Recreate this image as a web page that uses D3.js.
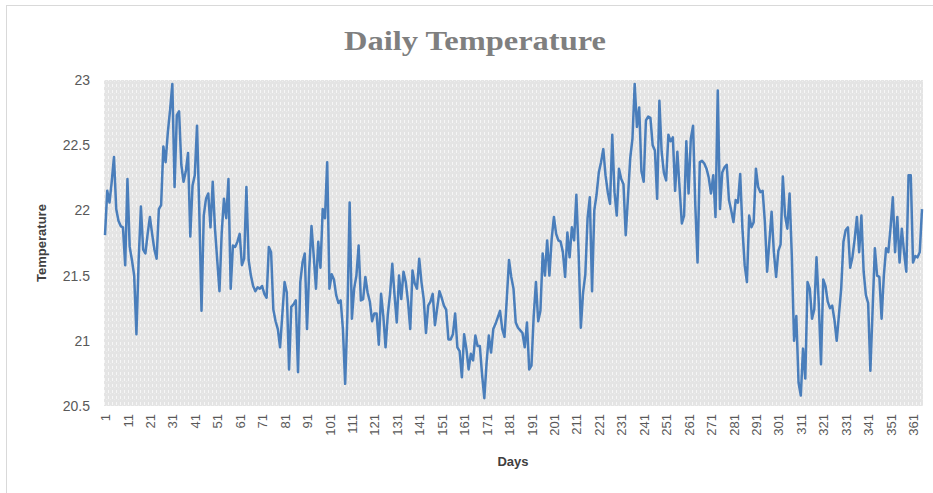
<!DOCTYPE html>
<html><head><meta charset="utf-8">
<script src="https://cdn.jsdelivr.net/npm/d3@7"></script>
<style>body{margin:0;background:#fff;} svg{display:block}</style>
</head><body>
<svg id="c" width="933" height="493"></svg>
<script>
const days = d3.range(1, 366);
const temperature = [
21.81,22.15,22.06,22.22,22.41,22.01,21.92,21.88,21.87,21.58,
22.24,21.72,21.62,21.5,21.05,21.62,22.03,21.7,21.67,21.82,
21.95,21.82,21.7,21.63,22.01,22.04,22.49,22.37,22.6,22.77,
22.97,22.18,22.73,22.76,22.35,22.22,22.3,22.44,21.8,22.19,
22.27,22.65,22.01,21.23,21.96,22.09,22.13,21.87,22.22,21.86,
21.62,21.38,21.83,22.09,21.94,22.24,21.4,21.73,21.72,21.76,
21.82,21.58,21.63,22.18,21.62,21.5,21.42,21.38,21.41,21.4,
21.42,21.36,21.33,21.72,21.68,21.24,21.15,21.09,20.95,21.2,
21.45,21.37,20.78,21.26,21.28,21.31,20.76,21.45,21.6,21.67,
21.09,21.55,21.88,21.65,21.4,21.76,21.56,22.01,21.94,22.37,
21.4,21.51,21.47,21.35,21.29,21.31,21.09,20.67,21.2,22.06,
21.17,21.4,21.5,21.73,21.31,21.32,21.49,21.37,21.3,21.15,
21.21,21.21,20.97,21.36,21.19,20.95,21.2,21.36,21.59,21.35,
21.14,21.5,21.32,21.53,21.45,21.3,21.09,21.54,21.44,21.4,
21.63,21.45,21.32,21.06,21.27,21.3,21.36,21.12,21.25,21.38,
21.33,21.27,21.24,21.01,21.01,21.05,21.21,20.95,20.92,20.72,
21.05,20.94,20.78,20.9,20.85,21.04,20.96,20.96,20.74,20.56,
20.83,21.04,20.91,21.09,21.13,21.18,21.23,21.09,21.03,21.32,
21.62,21.49,21.4,21.14,21.1,21.08,21.06,20.95,21.14,20.78,
20.81,21.19,21.45,21.15,21.23,21.67,21.5,21.77,21.5,21.78,
21.95,21.82,21.77,21.76,21.68,21.49,21.83,21.64,21.87,21.77,
22.12,21.68,21.1,21.37,21.51,21.94,22.1,21.38,22.0,22.12,
22.29,22.37,22.47,22.27,22.14,22.05,22.58,22.14,21.96,22.32,
22.24,22.2,21.81,22.1,22.4,22.55,22.97,22.64,22.79,22.3,
22.22,22.69,22.72,22.71,22.5,22.46,22.09,22.84,22.45,22.29,
22.23,22.58,22.53,22.56,22.15,22.45,22.17,21.9,21.96,22.53,
22.13,22.55,22.65,22.04,21.6,22.37,22.38,22.36,22.32,22.25,
22.13,22.27,21.95,22.92,22.01,22.29,22.33,22.35,22.08,22.0,
21.91,22.08,22.06,22.28,21.86,21.58,21.45,21.96,21.87,21.91,
22.32,22.18,22.14,22.15,21.91,21.53,21.76,21.99,21.68,21.49,
21.69,21.74,22.26,21.96,21.86,22.13,21.65,21.0,21.19,20.68,
20.58,20.94,20.71,21.45,21.4,21.17,21.24,21.64,21.29,20.82,
21.47,21.42,21.3,21.25,21.27,21.16,21.0,21.2,21.4,21.76,
21.85,21.87,21.56,21.64,21.78,21.95,21.68,21.96,21.53,21.35,
21.29,20.77,21.24,21.71,21.5,21.49,21.17,21.5,21.71,21.68,
21.87,22.1,21.68,21.95,21.6,21.86,21.68,21.53,22.27,22.27,
21.6,21.65,21.64,21.68,22.01
];
const yTicks = [20.5, 21, 21.5, 22, 22.5, 23];
const yTickLabels = ["20.5", "21", "21.5", "22", "22.5", "23"];
const xTickDays = d3.range(1, 366, 10);
const title = "Daily Temperature";
const xTitle = "Days";
const yTitle = "Temperature";

const svg = d3.select("#c");
const L = 105, R = 922, T = 80, B = 406;

// chart border
svg.append("rect").attr("x", 6.5).attr("y", 5.5).attr("width", 1000).attr("height", 600)
  .attr("fill", "#fff").attr("stroke", "#d9d9d9").attr("stroke-width", 1);

const defs = svg.append("defs");
const pat = defs.append("pattern").attr("id", "bg").attr("patternUnits", "userSpaceOnUse")
  .attr("width", 4).attr("height", 6);
pat.append("rect").attr("width", 4).attr("height", 6).attr("fill", "#e4e4e4");
pat.append("rect").attr("x", 0).attr("y", 0).attr("width", 1).attr("height", 3).attr("fill", "#f6f6f6");
pat.append("rect").attr("x", 2).attr("y", 3).attr("width", 1).attr("height", 1).attr("fill", "#ececec");

const x = d3.scalePoint().domain(days).range([L, R]).padding(0);
const y = d3.scaleLinear().domain([20.5, 23]).range([B, T]);

svg.append("rect").attr("x", L - 1).attr("y", T).attr("width", R - L + 2).attr("height", B - T)
  .attr("fill", "url(#bg)");

const font = "'Liberation Sans', Arial, sans-serif";

const ya = svg.append("g").attr("transform", `translate(${L - 1},0)`)
  .call(d3.axisLeft(y).tickValues(yTicks).tickSize(0).tickPadding(14)
    .tickFormat((d, i) => yTickLabels[i]));
ya.select(".domain").remove();
ya.selectAll("text").attr("font-family", font).attr("font-size", 14).attr("fill", "#595959");

const xa = svg.append("g").attr("transform", `translate(0,${B})`)
  .call(d3.axisBottom(x).tickValues(xTickDays).tickSize(0));
xa.select(".domain").remove();
xa.selectAll("text").attr("font-family", font).attr("font-size", 13).attr("fill", "#595959")
  .attr("transform", "rotate(-90)").attr("text-anchor", "end")
  .attr("x", -8).attr("y", 0).attr("dy", "0.35em");

const line = d3.line().x((d, i) => x(days[i])).y(d => y(d));
svg.append("path").datum(temperature).attr("d", line)
  .attr("fill", "none").attr("stroke", "#4a7ebb").attr("stroke-width", 2.5)
  .attr("stroke-linejoin", "round");

svg.append("text").attr("x", 475).attr("y", 50).attr("text-anchor", "middle")
  .attr("font-family", "'Liberation Serif', serif").attr("font-weight", "bold")
  .attr("font-size", 28).attr("fill", "#7f7f7f")
  .attr("textLength", 262).attr("lengthAdjust", "spacingAndGlyphs").text(title);

svg.append("text").attr("x", 513).attr("y", 466).attr("text-anchor", "middle")
  .attr("font-family", font).attr("font-weight", "bold").attr("font-size", 13)
  .attr("fill", "#404040").text(xTitle);

svg.append("text").attr("transform", "translate(46,243) rotate(-90)").attr("text-anchor", "middle")
  .attr("font-family", font).attr("font-weight", "bold").attr("font-size", 13)
  .attr("fill", "#404040").text(yTitle);
</script>
</body></html>
